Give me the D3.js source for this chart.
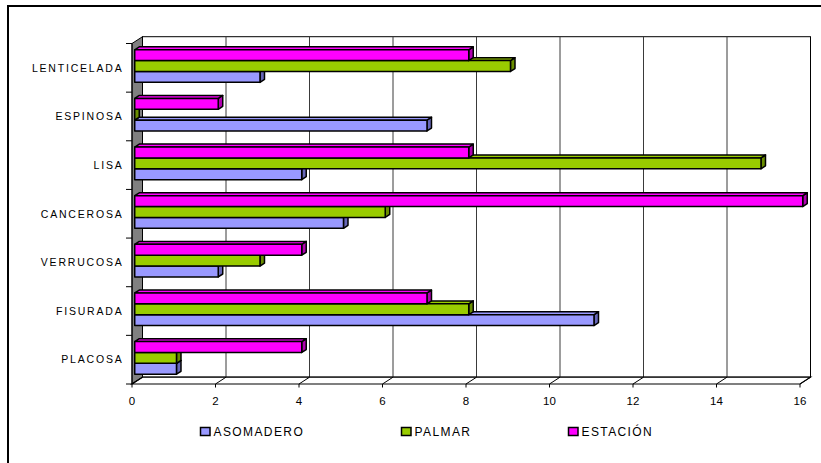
<!DOCTYPE html>
<html>
<head>
<meta charset="utf-8">
<script src="https://cdn.jsdelivr.net/npm/d3@7/dist/d3.min.js"></script>
<style>
  html, body { margin: 0; padding: 0; background: #fff; }
  svg { display: block; }
  text { font-family: "Liberation Sans", Arial, sans-serif; fill: #000; }
</style>
</head>
<body>
<svg id="chart" width="821" height="463"></svg>
<script>
// Bark types, listed bottom to top as on the category axis
const categories = ["PLACOSA", "FISURADA", "VERRUCOSA", "CANCEROSA", "LISA", "ESPINOSA", "LENTICELADA"];
const seriesNames = ["ASOMADERO", "PALMAR", "ESTACIÓN"];
const asomadero = [1, 11, 2, 5, 4, 7, 3];
const palmar    = [1, 8, 3, 6, 15, 0, 9];
const estacion  = [4, 7, 4, 16, 8, 2, 8];
const xTicks = [0, 2, 4, 6, 8, 10, 12, 14, 16];

const seriesValues = [asomadero, palmar, estacion];
const colors = ["#9999FF", "#99CC00", "#FF00FF"];
const sideColors = ["#6767B8", "#6A8E00", "#B000B0"];

const svg = d3.select("#chart");

// Outer frame
svg.append("rect")
  .attr("x", 8).attr("y", 6).attr("width", 900).attr("height", 500)
  .attr("fill", "none").attr("stroke", "#000").attr("stroke-width", 2);

// Front plane of the 3D plot and the depth offset to the back wall
const X0 = 132, X1 = 800, Y0 = 43.5, Y1 = 384;
const DX = 10.5, DY = -6.8;

const x = d3.scaleLinear().domain([0, 16]).range([X0, X1]);
const y = d3.scaleBand()
  .domain(categories.slice().reverse())
  .range([Y0, Y1])
  .paddingInner(0.33)
  .paddingOuter(0.165);
const ySeries = d3.scaleBand()
  .domain(["ESTACIÓN", "PALMAR", "ASOMADERO"])
  .range([0, y.bandwidth()]);

// Back wall
svg.append("rect")
  .attr("x", X0 + DX).attr("y", Y0 + DY)
  .attr("width", X1 - X0).attr("height", Y1 - Y0)
  .attr("fill", "#fff").attr("stroke", "#000").attr("stroke-width", 1);

// Vertical gridlines on the back wall
svg.append("g").selectAll("line")
  .data(xTicks.filter(d => d > 0 && d < 16))
  .join("line")
  .attr("x1", d => x(d) + DX).attr("x2", d => x(d) + DX)
  .attr("y1", Y0 + DY).attr("y2", Y1 + DY)
  .attr("stroke", "#3a3a3a").attr("stroke-width", 1);

// Left side wall
svg.append("polygon")
  .attr("points", [[X0, Y0], [X0 + DX, Y0 + DY], [X0 + DX, Y1 + DY], [X0, Y1]].map(p => p.join(",")).join(" "))
  .attr("fill", "#808080").attr("stroke", "#000").attr("stroke-width", 1);

// Floor
svg.append("polygon")
  .attr("points", [[X0, Y1], [X1, Y1], [X1 + DX, Y1 + DY], [X0 + DX, Y1 + DY]].map(p => p.join(",")).join(" "))
  .attr("fill", "#fff").attr("stroke", "#000").attr("stroke-width", 1.2);

// Floor depth lines and tick marks along the value axis
const floorTicks = svg.append("g");
floorTicks.selectAll("line.depth")
  .data(xTicks)
  .join("line").attr("class", "depth")
  .attr("x1", d => x(d)).attr("y1", Y1)
  .attr("x2", d => x(d) + DX).attr("y2", Y1 + DY)
  .attr("stroke", "#000").attr("stroke-width", 1);
floorTicks.selectAll("line.tick")
  .data(xTicks)
  .join("line").attr("class", "tick")
  .attr("x1", d => x(d)).attr("y1", Y1)
  .attr("x2", d => x(d)).attr("y2", Y1 + 3.5)
  .attr("stroke", "#000").attr("stroke-width", 1);

// Value axis labels
svg.append("g").selectAll("text")
  .data(xTicks)
  .join("text")
  .attr("x", d => x(d)).attr("y", 405)
  .attr("text-anchor", "middle")
  .attr("font-size", 11.5)
  .text(d => d);

// Category axis line and boundary ticks
svg.append("line")
  .attr("x1", X0).attr("x2", X0).attr("y1", Y0).attr("y2", Y1)
  .attr("stroke", "#000").attr("stroke-width", 1);
const step = y.step();
svg.append("g").selectAll("line")
  .data(d3.range(categories.length + 1))
  .join("line")
  .attr("x1", X0 - 6).attr("x2", X0)
  .attr("y1", i => Y0 + i * step).attr("y2", i => Y0 + i * step)
  .attr("stroke", "#000").attr("stroke-width", 1);

// Category labels
svg.append("g").selectAll("text")
  .data(categories)
  .join("text")
  .attr("x", 123.5)
  .attr("y", d => y(d) + y.bandwidth() / 2)
  .attr("dy", "0.36em")
  .attr("text-anchor", "end")
  .attr("font-size", 10.5)
  .attr("letter-spacing", 1.8)
  .text(d => d);

// 3D bars: front face sits part-way into the depth, with a short box depth
const F0 = 0.26, F1 = 0.69;
const fx = F0 * DX, fy = F0 * DY;
const bx = (F1 - F0) * DX, by = (F1 - F0) * DY;

const bars = [];
categories.forEach((c, ci) => {
  seriesNames.forEach((s, si) => {
    bars.push({ category: c, series: s, si, value: seriesValues[si][ci] });
  });
});

const pts = arr => arr.map(p => p.join(",")).join(" ");
const barG = svg.append("g")
  .attr("stroke", "#000").attr("stroke-width", 1.5).attr("stroke-linejoin", "round");

bars.forEach(b => {
  const xl = x(0) + fx, xr = x(b.value) + fx;
  const yt = y(b.category) + ySeries(b.series) + fy;
  const yb = yt + ySeries.bandwidth();
  const g = barG.append("g");
  // right end
  g.append("polygon")
    .attr("points", pts([[xr, yt], [xr + bx, yt + by], [xr + bx, yb + by], [xr, yb]]))
    .attr("fill", sideColors[b.si]);
  // top
  g.append("polygon")
    .attr("points", pts([[xl, yt], [xr, yt], [xr + bx, yt + by], [xl + bx, yt + by]]))
    .attr("fill", colors[b.si]);
  // front
  if (xr > xl) {
    g.append("rect")
      .attr("x", xl).attr("y", yt)
      .attr("width", xr - xl).attr("height", yb - yt)
      .attr("fill", colors[b.si]);
  }
});

// Legend
const legendX = [200, 401, 568];
const legend = svg.append("g").selectAll("g")
  .data(seriesNames)
  .join("g")
  .attr("transform", (d, i) => `translate(${legendX[i]},427)`);
legend.append("rect")
  .attr("x", 0.5).attr("y", 0.5).attr("width", 9.5).attr("height", 8)
  .attr("fill", (d, i) => colors[i])
  .attr("stroke", "#000").attr("stroke-width", 1.5);
legend.append("text")
  .attr("x", 13.5).attr("y", 9)
  .attr("font-size", 12)
  .attr("letter-spacing", 1.4)
  .text(d => d);
</script>
</body>
</html>
